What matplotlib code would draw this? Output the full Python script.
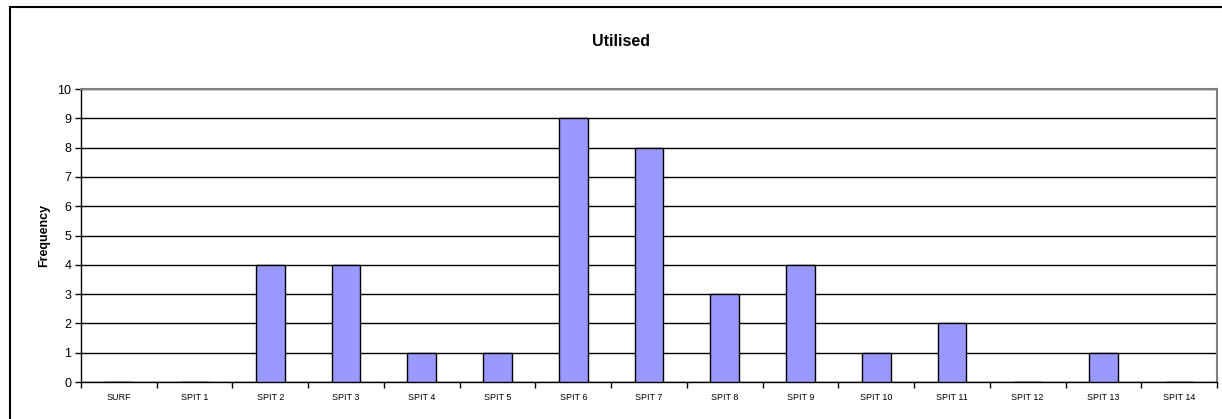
import matplotlib.pyplot as plt
from matplotlib.patches import Rectangle
import numpy as np

plt.rcParams['font.family'] = ['Liberation Sans', 'DejaVu Sans']

# Datos del grafico
categorias = ['SURF', 'SPIT 1', 'SPIT 2', 'SPIT 3', 'SPIT 4', 'SPIT 5', 'SPIT 6',
              'SPIT 7', 'SPIT 8', 'SPIT 9', 'SPIT 10', 'SPIT 11', 'SPIT 12',
              'SPIT 13', 'SPIT 14']
frecuencia = [0, 0, 4, 4, 1, 1, 9, 8, 3, 4, 1, 2, 0, 1, 0]

W, H = 1222, 419
fig = plt.figure(figsize=(W / 100, H / 100), dpi=100)

# borde exterior del grafico (recortado a la derecha y abajo)
fig.patches.append(Rectangle((10 / W, -0.1), 1.2, 1 - 7 / H + 0.1,
                             transform=fig.transFigure, fill=False,
                             edgecolor='black', linewidth=1.5))

ax = fig.add_axes([81 / W, (H - 382) / H, (1217 - 81) / W, (382 - 89) / H])
x = np.arange(len(categorias))
ax.bar(x, frecuencia, width=0.38, color='#9999FF', edgecolor='black',
       linewidth=1.0, zorder=3)

ax.set_xlim(-0.5, len(categorias) - 0.5)
ax.set_ylim(0, 10)
ax.set_yticks(range(0, 11))
ax.yaxis.grid(True, color='black', linewidth=1.0, zorder=0)
ax.set_axisbelow(True)

ax.set_xticks(x)
ax.set_xticklabels(categorias, fontsize=6.5)
ax.set_xticks(np.arange(-0.5, len(categorias)), minor=True)
ax.tick_params(axis='x', which='major', length=0, pad=8)
ax.tick_params(axis='x', which='minor', length=4, width=1, direction='out')
ax.tick_params(axis='y', length=4, width=1, labelsize=9, pad=3)

for s in ['left', 'bottom']:
    ax.spines[s].set_color('black')
    ax.spines[s].set_linewidth(1.0)
for s in ['top', 'right']:
    ax.spines[s].set_color('#808080')
    ax.spines[s].set_linewidth(1.5)

ax.set_ylabel('Frequency', fontsize=9, fontweight='bold', labelpad=5)
fig.text(621 / W, 1 - 42 / H, 'Utilised', ha='center', va='center',
         fontsize=11.5, fontweight='bold')

fig.savefig('out.png', dpi=100)
